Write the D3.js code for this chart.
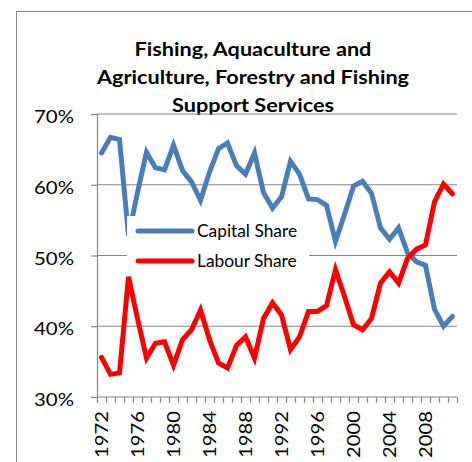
<!DOCTYPE html>
<html><head><meta charset="utf-8">
<script src="https://cdn.jsdelivr.net/npm/d3@7"></script>
<style>
html,body{margin:0;padding:0;background:#fff;}
svg{display:block;}
text{font-family:Lato,"Open Sans",sans-serif;fill:#000;}
</style>
</head><body>
<svg id="chart" width="472" height="462"></svg>
<script>
const years = [1972,1973,1974,1975,1976,1977,1978,1979,1980,1981,1982,1983,1984,1985,1986,1987,1988,1989,1990,1991,
               1992,1993,1994,1995,1996,1997,1998,1999,2000,2001,2002,2003,2004,2005,2006,2007,2008,2009,2010,2011];
const capitalShare = [64.5,66.7,66.4,52.8,58.9,64.6,62.4,62.1,65.6,62.0,60.4,57.8,61.8,65.1,65.9,62.7,61.5,64.5,58.9,56.7,
                      58.3,63.3,61.5,58.0,57.9,57.1,52.0,55.8,59.8,60.5,58.8,53.9,52.3,53.9,50.4,49.1,48.6,42.4,40.0,41.4];
const labourShare  = [35.6,33.2,33.4,47.0,41.1,35.5,37.6,37.8,34.5,38.1,39.5,42.3,38.1,34.8,34.1,37.3,38.5,35.5,41.1,43.3,
                      41.6,36.7,38.5,42.1,42.1,42.9,48.0,44.2,40.2,39.5,41.1,46.1,47.7,46.1,49.6,50.9,51.5,57.6,60.1,58.7];
const xTickLabels = [1972,1976,1980,1984,1988,1992,1996,2000,2004,2008];
const yTickValues = [30,40,50,60,70];
const titleLines = ["Fishing, Aquaculture and","Agriculture, Forestry and Fishing","Support Services"];
const seriesNames = ["Capital Share","Labour Share"];
const seriesColors = ["#4a7ebb","#ff0000"];

const svg = d3.select("#chart");
const grey = "#868686";
const plot = {left:97, right:457, top:114, bottom:397};

// outer chart border
svg.append("rect").attr("x",16.5).attr("y",11.5).attr("width",520).attr("height",520)
  .attr("fill","none").attr("stroke",grey).attr("stroke-width",1);

// title
const titleBase = [56,84,112];
svg.append("g").selectAll("text").data(titleLines).join("text")
  .attr("transform",(d,i)=>`translate(253,${titleBase[i]}) scale(1.14,1)`)
  .attr("text-anchor","middle").attr("font-size",19).attr("font-weight","bold")
  .text(d=>d);

const x = d3.scalePoint().domain(years).range([plot.left,plot.right]).padding(0.5);
const xb = d3.scaleLinear().domain([0,years.length]).range([plot.left,plot.right]);
const y = d3.scaleLinear().domain([30,70]).range([plot.bottom,plot.top]);

// gridlines
svg.append("g").selectAll("line").data(yTickValues.filter(v=>v>30)).join("line")
  .attr("x1",plot.left).attr("x2",plot.right).attr("y1",d=>y(d)).attr("y2",d=>y(d))
  .attr("stroke",grey).attr("stroke-width",1.2);

// y axis
const yAxis = svg.append("g").attr("transform",`translate(${plot.left},0)`)
  .call(d3.axisLeft(y).tickValues(yTickValues).tickSize(6).tickFormat(d=>d+"%"));
yAxis.select(".domain").attr("stroke",grey).attr("stroke-width",1.2);
yAxis.selectAll(".tick line").attr("stroke",grey).attr("stroke-width",1.2);
yAxis.selectAll(".tick text").attr("x",0).attr("dy",null).attr("y",0)
  .attr("transform","translate(-23,8.5) scale(1.2,1)")
  .attr("font-size",17).attr("text-anchor","end").attr("fill","#000");

// x axis tick marks (between categories)
const xTicks = svg.append("g").attr("transform",`translate(0,${plot.bottom})`)
  .call(d3.axisBottom(xb).tickValues(d3.range(0,years.length+1)).tickSize(6).tickFormat(""));
xTicks.select(".domain").attr("stroke",grey).attr("stroke-width",1.2).attr("d",`M${plot.left},0H${plot.right}`);
xTicks.selectAll(".tick line").attr("stroke",grey).attr("stroke-width",1.2);

// x labels
const xLab = svg.append("g").attr("transform",`translate(0,${plot.bottom})`)
  .call(d3.axisBottom(x).tickValues(xTickLabels).tickSize(0).tickFormat(d=>String(d)));
xLab.select(".domain").remove();
xLab.selectAll(".tick text").attr("x",0).attr("y",6).attr("dy",null)
  .attr("transform","translate(0,14) rotate(-90) scale(1.19,1)")
  .attr("text-anchor","end").attr("font-size",17).attr("fill","#000");

// lines
const line = d3.line().x((d,i)=>x(years[i])).y(d=>y(d)).curve(d3.curveLinear);
[capitalShare,labourShare].forEach((s,k)=>{
  svg.append("path").datum(s).attr("d",line).attr("fill","none")
    .attr("stroke",seriesColors[k]).attr("stroke-width",5)
    .attr("stroke-linejoin","miter").attr("stroke-linecap","round");
});

// legend
const leg = svg.append("g");
leg.append("rect").attr("x",127).attr("y",216).attr("width",182).attr("height",55).attr("fill","#fff");
const legY = [231,261];
seriesNames.forEach((n,k)=>{
  leg.append("line").attr("x1",138).attr("x2",192).attr("y1",legY[k]).attr("y2",legY[k])
    .attr("stroke",seriesColors[k]).attr("stroke-width",5).attr("stroke-linecap","round");
  leg.append("text").attr("transform",`translate(197,${legY[k]+6}) scale(1.02,1)`)
    .attr("font-size",17).text(n);
});
</script>
</body></html>
